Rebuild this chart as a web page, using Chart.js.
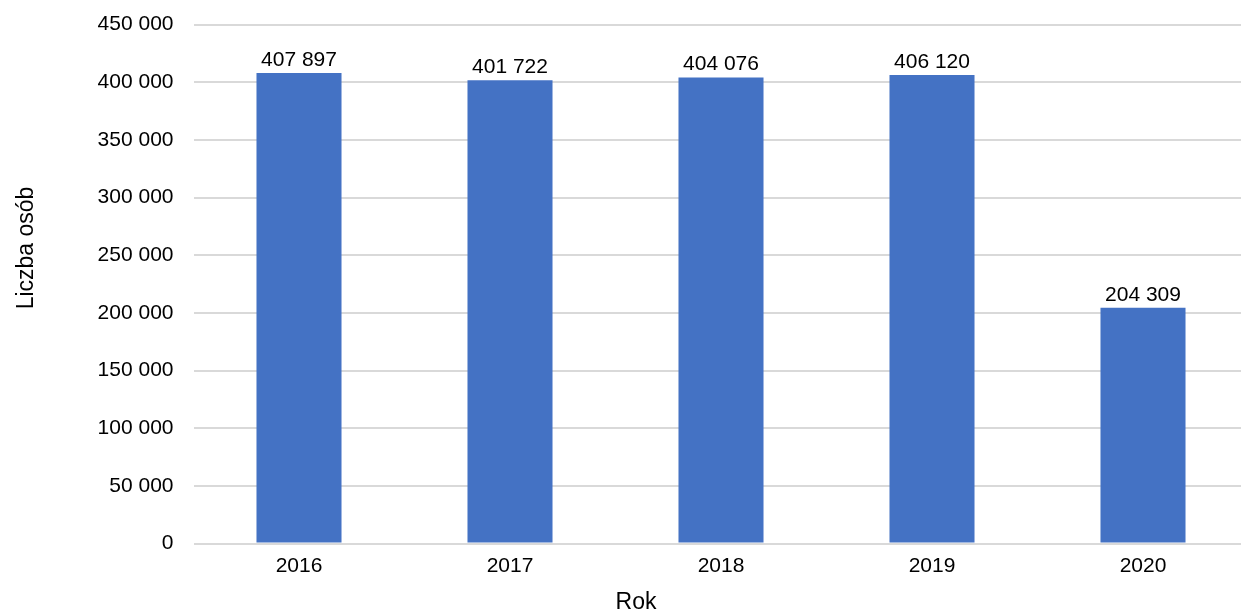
<!DOCTYPE html>
<html>
<head>
<meta charset="utf-8">
<script src="https://cdn.jsdelivr.net/npm/chart.js@4.4.1/dist/chart.umd.min.js"></script>
<style>
  html, body { margin: 0; padding: 0; background: #fff; overflow: hidden; }
  #wrap { width: 1241px; height: 609px; overflow: hidden; position: relative; }
  #box { width: 1260px; height: 609px; position: absolute; left: 0; top: 0; }
</style>
</head>
<body>
<div id="wrap"><div id="box"><canvas id="c"></canvas></div></div>
<script>
const categories = ['2016', '2017', '2018', '2019', '2020'];
const values = [407897, 401722, 404076, 406120, 204309];
const yTicks = [0, 50000, 100000, 150000, 200000, 250000, 300000, 350000, 400000, 450000];
const xTitle = 'Rok';
const yTitle = 'Liczba osób';

const FONT = '"Liberation Sans", Arial, sans-serif';
function fmt(v) {
  return String(v).replace(/\B(?=(\d{3})+(?!\d))/g, ' ');
}

const labelPlugin = {
  id: 'labels',
  afterDatasetsDraw(chart) {
    const ctx = chart.ctx;
    const meta = chart.getDatasetMeta(0);
    ctx.save();
    ctx.fillStyle = '#000';
    ctx.font = '21px ' + FONT;
    ctx.textAlign = 'center';
    ctx.textBaseline = 'alphabetic';
    meta.data.forEach((bar, i) => {
      ctx.fillText(fmt(values[i]), bar.x, bar.y - 7);
    });
    ctx.restore();
  }
};

const titlePlugin = {
  id: 'axisTitles',
  afterDraw(chart) {
    const ctx = chart.ctx;
    ctx.save();
    ctx.fillStyle = '#000';
    ctx.font = '23px ' + FONT;
    ctx.textAlign = 'center';
    ctx.textBaseline = 'alphabetic';
    ctx.fillText(xTitle, 636, 609);
    ctx.translate(33, 248);
    ctx.rotate(-Math.PI / 2);
    ctx.fillText(yTitle, 0, 0);
    ctx.restore();
  }
};

new Chart(document.getElementById('c'), {
  type: 'bar',
  data: {
    labels: categories,
    datasets: [{
      data: values,
      backgroundColor: '#4472C4',
      borderWidth: 0,
      categoryPercentage: 1.0,
      barPercentage: 0.403
    }]
  },
  options: {
    responsive: true,
    maintainAspectRatio: false,
    animation: false,
    layout: { padding: { top: 0, right: 11.5, left: 0, bottom: 0 } },
    plugins: {
      legend: { display: false },
      tooltip: { enabled: false }
    },
    scales: {
      x: {
        grid: { display: false, drawTicks: false },
        border: { display: false },
        ticks: { color: '#000', font: { family: FONT, size: 21 }, padding: 10 },
        afterFit(scale) { scale.height = 65.5; }
      },
      y: {
        min: 0,
        max: 450000,
        afterBuildTicks(scale) { scale.ticks = yTicks.map(v => ({ value: v })); },
        grid: { color: '#d9d9d9', lineWidth: 2, drawTicks: false },
        border: { display: false },
        ticks: {
          color: '#000',
          font: { family: FONT, size: 21, lineHeight: 0.43 },
          padding: 20,
          callback: (v) => fmt(v)
        },
        afterFit(scale) { scale.width = 193.5; }
      }
    }
  },
  plugins: [labelPlugin, titlePlugin]
});
</script>
</body>
</html>
